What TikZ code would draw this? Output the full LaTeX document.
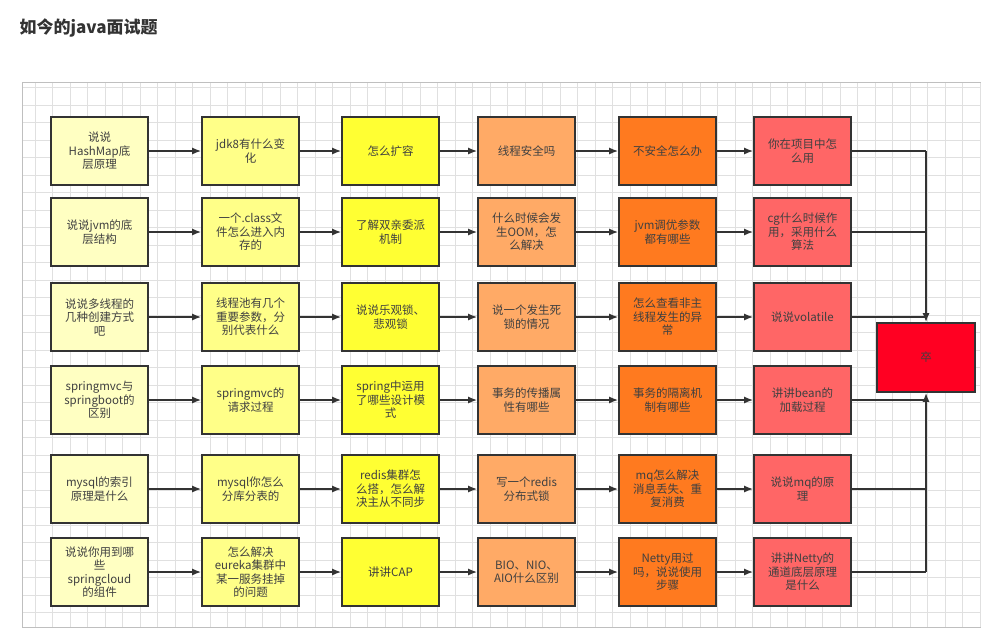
\documentclass[tikz,border=0pt]{standalone}
\usepackage{fontspec}
\setmainfont{Noto Sans CJK SC}
\usetikzlibrary{arrows.meta}
\definecolor{cA}{HTML}{FFFFC2}
\definecolor{cB}{HTML}{FFFF88}
\definecolor{cC}{HTML}{FFFF33}
\definecolor{cD}{HTML}{FFAA66}
\definecolor{cE}{HTML}{FF7A1F}
\definecolor{cF}{HTML}{FF6666}
\definecolor{cG}{HTML}{FF0022}
\tikzset{
  qbox/.style={draw=black!80, line width=1.6pt, minimum width=97pt, minimum height=68pt,
    text width=78pt, align=center, font=\fontsize{11.5}{13.5}\selectfont, text=black!75},
  flow/.style={line width=1.6pt, draw=black!80, -{Latex[length=9pt,width=7pt]}},
  mergeline/.style={line width=1.3pt, draw=black!80},
}
\begin{document}
\begin{tikzpicture}[x=1pt,y=-1pt]
    \useasboundingbox (0,0) rectangle (981,627);
    \fill[white] (0,0) rectangle (981,627);
    \node[anchor=west, font=\bfseries\fontsize{17}{20}\selectfont, text=black!80] (title) at (16,28) {如今的java面试题};

    % grid panel
    \draw[black!12, step=17.5pt] (22,82) grid (981,627);
    \draw[black!25] (22,82) rectangle (981,627);

    % question boxes
    \foreach \r/\y/\ta/\tb/\tc/\td/\te/\tf in {
      1/151/{说说\\HashMap底\\层原理}/{jdk8有什么变\\化}/{怎么扩容}/{线程安全吗}/{不安全怎么办}/{你在项目中怎\\么用},
      2/232/{说说jvm的底\\层结构}/{一个.class文\\件怎么进入内\\存的}/{了解双亲委派\\机制}/{什么时候会发\\生OOM，怎\\么解决}/{jvm调优参数\\都有哪些}/{cg什么时候作\\用，采用什么\\算法},
      3/317/{说说多线程的\\几种创建方式\\吧}/{线程池有几个\\重要参数，分\\别代表什么}/{说说乐观锁、\\悲观锁}/{说一个发生死\\锁的情况}/{怎么查看非主\\线程发生的异\\常}/{说说volatile},
      4/400/{springmvc与\\springboot的\\区别}/{springmvc的\\请求过程}/{spring中运用\\了哪些设计模\\式}/{事务的传播属\\性有哪些}/{事务的隔离机\\制有哪些}/{讲讲bean的\\加载过程},
      5/489/{mysql的索引\\原理是什么}/{mysql你怎么\\分库分表的}/{redis集群怎\\么搭，怎么解\\决主从不同步}/{写一个redis\\分布式锁}/{mq怎么解决\\消息丢失、重\\复消费}/{说说mq的原\\理},
      6/572/{说说你用到哪\\些\\springcloud\\的组件}/{怎么解决\\eureka集群中\\某一服务挂掉\\的问题}/{讲讲CAP}/{BIO、NIO、\\AIO什么区别}/{Netty用过\\吗，说说使用\\步骤}/{讲讲Netty的\\通道底层原理\\是什么}} {
      \node[qbox, fill=cA] (q\r a) at (99.5,\y) {\ta};
      \node[qbox, fill=cB] (q\r b) at (250.5,\y) {\tb};
      \node[qbox, fill=cC] (q\r c) at (390.5,\y) {\tc};
      \node[qbox, fill=cD] (q\r d) at (526.5,\y) {\td};
      \node[qbox, fill=cE] (q\r e) at (667.5,\y) {\te};
      \node[qbox, fill=cF] (q\r f) at (802.5,\y) {\tf};
      \draw[flow] (q\r a) -- (q\r b);
      \draw[flow] (q\r b) -- (q\r c);
      \draw[flow] (q\r c) -- (q\r d);
      \draw[flow] (q\r d) -- (q\r e);
      \draw[flow] (q\r e) -- (q\r f);
    }

    % final box
    \node[qbox, fill=cG, minimum width=98pt, minimum height=69pt] (end) at (926,357.5) {卒};
    \coordinate (top) at (926,151);
    \coordinate (bot) at (926,572);
    \draw[mergeline] (q1f.east) -- (top);
    \draw[flow] (top) -- (end.north);
    \draw[mergeline] (q2f.east) -- (926,232);
    \draw[mergeline] (q3f.east) -- (926,317);
    \draw[mergeline] (q6f.east) -- (bot);
    \draw[flow] (bot) -- (end.south);
    \draw[mergeline] (q4f.east) -- (926,400);
    \draw[mergeline] (q5f.east) -- (926,489);
\end{tikzpicture}
\end{document}
